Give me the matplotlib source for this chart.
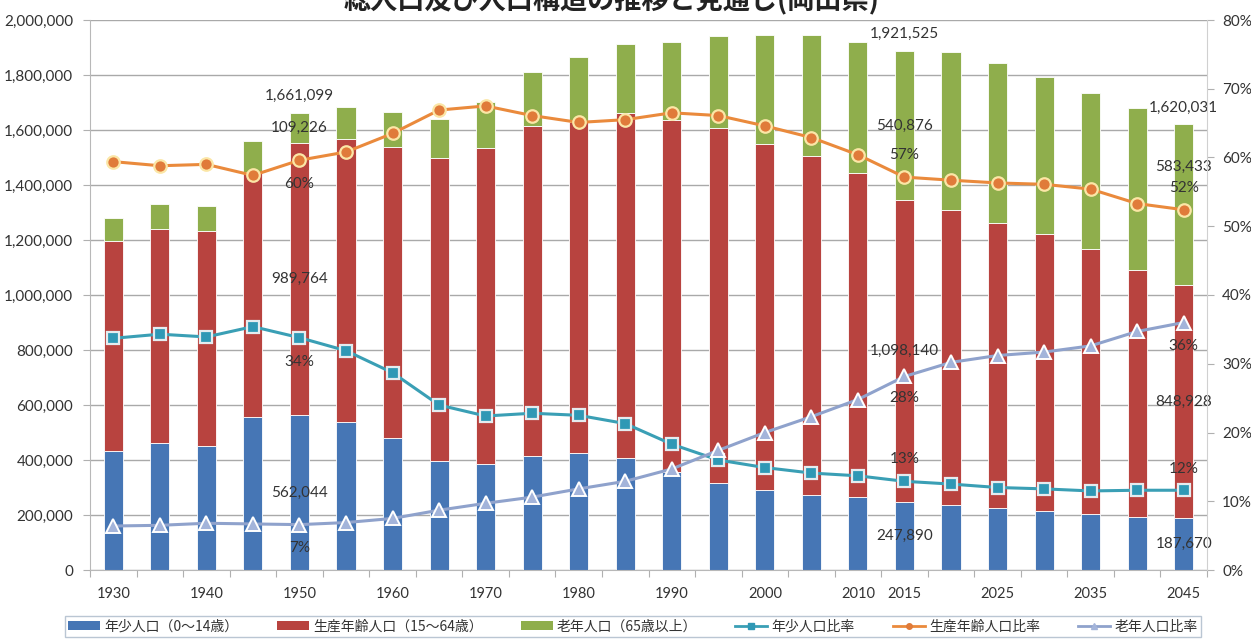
import matplotlib
matplotlib.use('Agg')
import matplotlib.pyplot as plt
from matplotlib.patches import Patch
from matplotlib.lines import Line2D
import numpy as np

plt.rcParams['font.family'] = ['Lato', 'Noto Sans CJK JP', 'DejaVu Sans']

# ---------------- data ----------------
years = [1930, 1935, 1940, 1945, 1950, 1955, 1960, 1965, 1970, 1975, 1980, 1985,
         1990, 1995, 2000, 2005, 2010, 2015, 2020, 2025, 2030, 2035, 2040, 2045]
shown_year_labels = [1930, 1940, 1950, 1960, 1970, 1980, 1990, 2000, 2010, 2015, 2025, 2035, 2045]

young = [434000, 461000, 451000, 557000, 562044, 539000, 479000, 397000, 385000, 416000,
         424000, 408000, 357000, 315000, 291000, 273000, 264000, 247890, 236000, 224000,
         215000, 203000, 194000, 187670]
working = [763000, 779000, 783000, 892000, 989764, 1027000, 1060000, 1100000, 1148000, 1199000,
           1206000, 1253000, 1279000, 1291000, 1258000, 1234000, 1179000, 1098140, 1073000, 1039000,
           1006000, 964000, 897000, 848928]
elderly = [83000, 91000, 91000, 111000, 109226, 119000, 125000, 143000, 168000, 195000,
           235000, 251000, 285000, 337000, 396000, 438000, 478000, 540876, 574000, 579000,
           573000, 569000, 588000, 583433]

young_ratio = [0.337, 0.343, 0.339, 0.354, 0.338, 0.319, 0.287, 0.240, 0.224, 0.228,
               0.225, 0.213, 0.183, 0.160, 0.149, 0.141, 0.137, 0.129, 0.125, 0.120,
               0.118, 0.115, 0.116, 0.116]
working_ratio = [0.594, 0.588, 0.590, 0.574, 0.596, 0.608, 0.635, 0.669, 0.675, 0.661,
                 0.651, 0.655, 0.665, 0.661, 0.646, 0.629, 0.604, 0.5715, 0.567, 0.563,
                 0.561, 0.554, 0.533, 0.524]
elderly_ratio = [0.064, 0.065, 0.068, 0.067, 0.066, 0.069, 0.075, 0.087, 0.097, 0.106,
                 0.118, 0.129, 0.147, 0.174, 0.200, 0.223, 0.248, 0.2815, 0.302, 0.312,
                 0.317, 0.326, 0.347, 0.360]

# reported totals (include age-unknown) for the labelled years
labelled_years = [1950, 2015, 2045]
reported_total = [1661099, 1921525, 1620031]

series_names = ['年少人口（0～14歳）', '生産年齢人口（15～64歳）', '老年人口（65歳以上）',
                '年少人口比率', '生産年齢人口比率', '老年人口比率']
title = '総人口及び人口構造の推移と見通し(岡山県)'

# ---------------- style ----------------
c_blue = '#4676b5'
c_red = '#b8433f'
c_green = '#8fae4c'
c_teal = '#3a9fb5'
c_teal_m = '#2f98b5'
c_orange = '#ea8a3c'
c_orange_m = '#e07b3a'
c_lav = '#8fa2cc'
c_lav_m = '#a3b4da'
txt = '#333333'
grid_c = '#a9a9a9'

W, H = 1251, 642
fig = plt.figure(figsize=(W / 100, H / 100), dpi=100)
L, R, T, B = 90, 1207, 20, 570
ax = fig.add_axes([L / W, 1 - B / H, (R - L) / W, (B - T) / H])
ax2 = ax.twinx()

x = np.arange(len(years))
young_a = np.array(young)
working_a = np.array(working)
elderly_a = np.array(elderly)
bw = 0.41
ax.bar(x, young_a, bw, color=c_blue, edgecolor='white', linewidth=0.6, zorder=2)
ax.bar(x, working_a, bw, bottom=young_a, color=c_red, edgecolor='white', linewidth=0.6, zorder=2)
ax.bar(x, elderly_a, bw, bottom=young_a + working_a, color=c_green, edgecolor='white', linewidth=0.6, zorder=2)

ax.set_xlim(-0.5, len(years) - 0.5)
ax.set_ylim(0, 2000000)
ax.set_yticks(np.arange(0, 2000001, 200000))
ax.set_yticklabels([f'{v:,}' for v in range(0, 2000001, 200000)])
ax.yaxis.grid(True, color=grid_c, linewidth=1.0)
ax.set_axisbelow(True)

# x ticks: marks at category boundaries, labels at selected centers
ax.set_xticks(np.arange(-0.5, len(years), 1.0))
ax.set_xticklabels([])
ax.tick_params(axis='x', which='major', length=5, color='#b0b0b0', direction='out')
lab_idx = [years.index(y) for y in shown_year_labels]
ax.set_xticks(lab_idx, minor=True)
ax.set_xticklabels([str(y) for y in shown_year_labels], minor=True)
ax.tick_params(axis='x', which='minor', length=0, pad=12, labelsize=10.5, labelcolor=txt)
ax.tick_params(axis='y', length=5, color='#b0b0b0', labelsize=11, labelcolor=txt, pad=7)

for s in ['top', 'right']:
    ax.spines[s].set_visible(False)
for s in ['left', 'bottom']:
    ax.spines[s].set_color('#b8b8b8')

# ratio lines
ax2.set_ylim(0, 0.8)
ax2.set_yticks(np.arange(0, 0.81, 0.1))
ax2.set_yticklabels([f'{int(round(v * 100))}%' for v in np.arange(0, 0.81, 0.1)])
ax2.tick_params(axis='y', length=5, color='#b0b0b0', labelsize=11, labelcolor=txt, pad=6)
for s in ['top', 'left', 'bottom']:
    ax2.spines[s].set_visible(False)
ax2.spines['right'].set_color('#d0d0d0')

ax2.plot(x, young_ratio, color=c_teal, lw=2.2, marker='s', ms=8.5, mfc=c_teal_m,
         mec='#e4ecef', mew=1.6, zorder=3)
ax2.plot(x, working_ratio, color=c_orange, lw=2.2, marker='o', ms=9, mfc=c_orange_m,
         mec='#fbe6a6', mew=1.6, zorder=3)
ax2.plot(x, elderly_ratio, color=c_lav, lw=2.2, marker='^', ms=9.5, mfc=c_lav_m,
         mec='white', mew=1.4, zorder=3)

# ---------------- data labels ----------------
fs_lab = 11
seg_offsets = {2045: (0, 0, 38)}
ratio_offsets = {1950: (-24, -24, -23), 2015: (22, 22, -22), 2045: (21, 22, -23)}
for yr, tot in zip(labelled_years, reported_total):
    i = years.index(yr)
    yb, wk, el = young[i], working[i], elderly[i]
    top = yb + wk + el
    ax.annotate(f'{tot:,}', (i, top), xytext=(0, 17), textcoords='offset pixels',
                ha='center', va='center', fontsize=fs_lab, color=txt, zorder=6)
    so = seg_offsets.get(yr, (0, 0, 0))
    for val, base, off in [(yb, 0, so[0]), (wk, yb, so[1]), (el, yb + wk, so[2])]:
        ax.annotate(f'{val:,}', (i, base + val / 2), xytext=(0, off), textcoords='offset pixels',
                    ha='center', va='center', fontsize=fs_lab, color=txt, zorder=6)
    ro = ratio_offsets[yr]
    for r, off in [(young_ratio[i], ro[0]), (working_ratio[i], ro[1]), (elderly_ratio[i], ro[2])]:
        ax2.annotate(f'{int(round(r * 100))}%', (i, r), xytext=(0, off), textcoords='offset pixels',
                     ha='center', va='center', fontsize=fs_lab, color=txt, zorder=6)

# ---------------- title ----------------
fig.text(612 / W, 1 - 1 / H, title, ha='center', va='center', fontsize=19.5, fontweight='bold',
         family=['Noto Sans CJK JP'], color='#222222')

# ---------------- legend ----------------
handles = [
    Patch(facecolor=c_blue, edgecolor='none'),
    Patch(facecolor=c_red, edgecolor='none'),
    Patch(facecolor=c_green, edgecolor='none'),
    Line2D([], [], color=c_teal, lw=2, marker='s', ms=4, mfc=c_teal_m, mec=c_teal_m),
    Line2D([], [], color=c_orange, lw=2, marker='o', ms=4, mfc=c_orange_m, mec=c_orange_m),
    Line2D([], [], color=c_lav, lw=2, marker='^', ms=4, mfc=c_lav_m, mec=c_lav_m),
]
leg = fig.legend(handles, series_names, ncol=6, loc='upper center',
                 bbox_to_anchor=(633 / W, 1 - 616 / H), frameon=True, fancybox=False,
                 edgecolor='#a9b8c8', handlelength=2.3, handleheight=0.6, handletextpad=0.3,
                 columnspacing=2.75, borderpad=0.25, borderaxespad=0,
                 prop={'family': ['Noto Sans CJK JP'], 'size': 10})
for t in leg.get_texts():
    t.set_color(txt)

fig.savefig('out.png', dpi=100)
